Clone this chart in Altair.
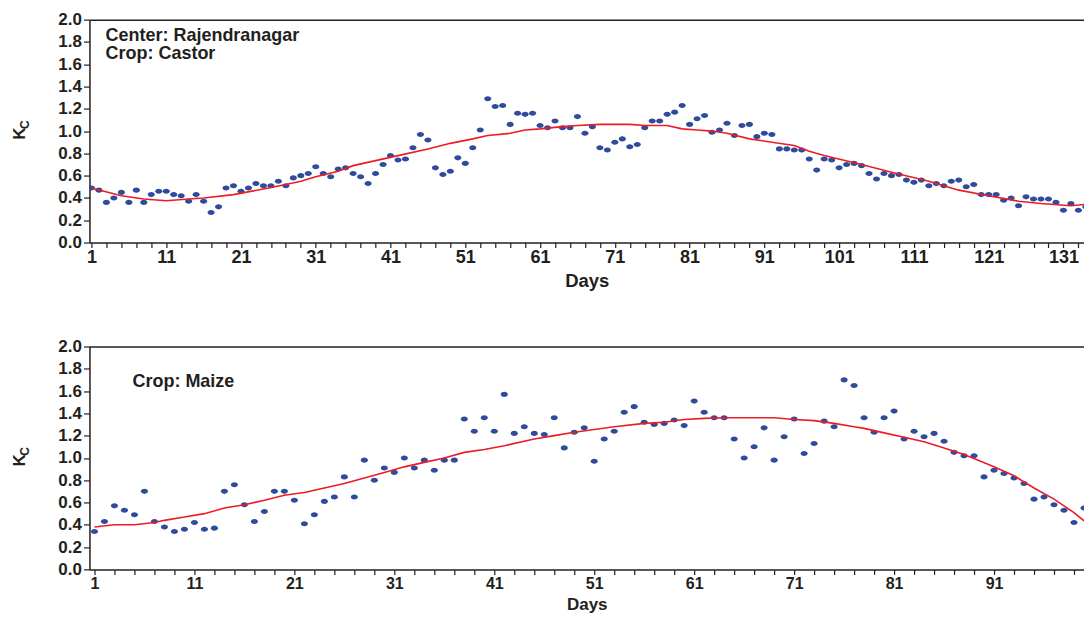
import altair as alt
import pandas as pd

# ---------------- data ----------------
castor_kc = [
    0.49, 0.47, 0.36, 0.40, 0.45, 0.36, 0.47, 0.36, 0.43, 0.46,
    0.46, 0.43, 0.42, 0.37, 0.43, 0.37, 0.27, 0.32, 0.49, 0.51,
    0.46, 0.49, 0.53, 0.51, 0.51, 0.55, 0.51, 0.58, 0.60, 0.62,
    0.68, 0.62, 0.59, 0.66, 0.67, 0.62, 0.59, 0.53,
    0.62, 0.70, 0.78, 0.74, 0.75, 0.85, 0.97, 0.92, 0.67, 0.61,
    0.64, 0.76, 0.71, 0.85, 1.01, 1.29, 1.22, 1.23, 1.06, 1.16,
    1.15, 1.16, 1.05, 1.03, 1.09, 1.03, 1.03, 1.13, 0.98, 1.04,
    0.85, 0.83, 0.90, 0.93, 0.86, 0.88, 1.03, 1.09, 1.09, 1.15,
    1.17, 1.23, 1.06, 1.11, 1.14, 0.99, 1.01, 1.07, 0.96,
    1.05, 1.06, 0.95, 0.98, 0.97, 0.84, 0.84, 0.83, 0.83, 0.75,
    0.65, 0.75, 0.74, 0.67, 0.70, 0.71, 0.69, 0.62, 0.57, 0.62,
    0.60, 0.61, 0.56, 0.54, 0.56, 0.51, 0.53, 0.51, 0.55, 0.56,
    0.50, 0.52, 0.43, 0.43, 0.43, 0.38, 0.40, 0.33, 0.41, 0.39,
    0.39, 0.39, 0.36, 0.29, 0.35, 0.29, 0.32, 0.34,
]
castor_fit_days = [1, 5, 8, 11, 14, 16, 20, 24, 27, 29, 31, 34, 36, 42, 46, 49,
                   52, 54, 57, 59, 61, 64, 66, 69, 73, 75, 78, 80, 82, 84, 86,
                   89, 92, 95, 97, 99, 104, 108, 113, 117, 121, 125, 128, 132, 135]
castor_fit = [0.49, 0.42, 0.39, 0.375, 0.39, 0.40, 0.43, 0.48, 0.52, 0.55, 0.59,
              0.64, 0.69, 0.78, 0.84, 0.89, 0.93, 0.96, 0.98, 1.01, 1.02, 1.04,
              1.05, 1.06, 1.06, 1.05, 1.05, 1.02, 1.01, 1.00, 0.98, 0.93, 0.90,
              0.87, 0.82, 0.78, 0.70, 0.63, 0.55, 0.47, 0.42, 0.37, 0.35, 0.33, 0.35]

maize_kc = [
    0.34, 0.43, 0.57, 0.53, 0.49, 0.70, 0.43, 0.38, 0.34, 0.36,
    0.42, 0.36, 0.37, 0.70, 0.76, 0.58, 0.43, 0.52, 0.70, 0.70,
    0.62, 0.41, 0.49, 0.61, 0.65, 0.83, 0.65, 0.98,
    0.80, 0.91, 0.87, 1.00, 0.91, 0.98, 0.89, 0.98, 0.98, 1.35,
    1.24, 1.36, 1.24, 1.57, 1.22, 1.28, 1.22, 1.21, 1.36, 1.09,
    1.23, 1.27, 0.97, 1.17, 1.24, 1.41, 1.46, 1.32, 1.30, 1.31,
    1.34, 1.29, 1.51, 1.41, 1.36, 1.36,
    1.17, 1.00, 1.10, 1.27, 0.98, 1.19, 1.35, 1.04, 1.13, 1.33,
    1.28, 1.70, 1.65, 1.36, 1.23, 1.36, 1.42, 1.17, 1.24, 1.19,
    1.22, 1.15, 1.05, 1.02, 1.02, 0.83, 0.89, 0.86, 0.82, 0.77,
    0.63, 0.65, 0.58, 0.53, 0.42, 0.55,
]
maize_fit_days = [1, 3, 5, 7, 8, 10, 12, 14, 16, 18, 20, 22, 24, 26, 28, 30, 32,
                  34, 36, 38, 40, 42, 45, 47, 49, 51, 53, 56, 58, 60, 62, 64, 69,
                  71, 73, 75, 77, 78, 80, 82, 84, 86, 88, 91, 93, 95, 97, 98, 99, 100]
maize_fit = [0.38, 0.40, 0.40, 0.42, 0.44, 0.47, 0.50, 0.55, 0.58, 0.62, 0.665,
             0.69, 0.73, 0.77, 0.82, 0.87, 0.92, 0.96, 1.00, 1.05, 1.075, 1.11,
             1.17, 1.20, 1.23, 1.255, 1.28, 1.31, 1.32, 1.345, 1.355, 1.36, 1.36,
             1.345, 1.335, 1.31, 1.28, 1.265, 1.225, 1.185, 1.145, 1.09, 1.03,
             0.92, 0.84, 0.73, 0.63, 0.57, 0.51, 0.435]

y_ticks = [0.0, 0.2, 0.4, 0.6, 0.8, 1.0, 1.2, 1.4, 1.6, 1.8, 2.0]

# ---------------- styling ----------------
TXT = "#231f20"
BLUE = "#2f4b9c"
RED = "#ec1c24"
FONT = "Liberation Sans"
ELLIPSE = "M -1 0 A 1 0.72 0 1 0 1 0 A 1 0.72 0 1 0 -1 0 Z"
H = 223
W = 995


def panel(kc, fit_days, fit, xdom, last_tick, notes, title_pad, lab_fs, title_fs):
    pts = pd.DataFrame({"day": list(range(1, len(kc) + 1)), "kc": kc})
    fitdf = pd.DataFrame({"day": fit_days, "kc": fit})
    xs = alt.Scale(domain=xdom, nice=False, zero=False)
    ys = alt.Scale(domain=[0, 2], nice=False, zero=False)
    yaxis = alt.Axis(values=y_ticks, format=".1f", title=None, labelOverlap=False,
                     labelFontSize=17, tickSize=6, labelPadding=2)
    x = alt.X(
        "day:Q",
        scale=xs,
        axis=alt.Axis(
            values=list(range(1, last_tick + 1, 2)),
            labelExpr="(datum.value - 1) % 10 == 0 ? datum.label : ''",
            labelOverlap=False,
            labelFlush=False,
            labelFontSize=lab_fs,
            tickSize=5,
            labelPadding=1,
            title="Days",
            titleFontSize=title_fs,
            titlePadding=title_pad,
        ),
    )
    points = alt.Chart(pts).mark_point(
        shape=ELLIPSE, filled=True, size=50, color=BLUE, opacity=1, clip=True
    ).encode(x=x, y=alt.Y("kc:Q", scale=ys, axis=yaxis))
    line = alt.Chart(fitdf).mark_line(color=RED, strokeWidth=1.6, clip=True).encode(
        x=alt.X("day:Q", scale=xs,
                axis=alt.Axis(orient="top", labels=False, ticks=False, title=None,
                              domain=True)),
        y=alt.Y("kc:Q", scale=ys, axis=yaxis),
    )
    layers = [points, line]
    for txt, nx, ny in notes:
        layers.append(
            alt.Chart(pd.DataFrame({"t": [txt]})).mark_text(
                align="left", baseline="middle", font=FONT, fontSize=18,
                fontWeight="bold", color=TXT,
            ).encode(x=alt.value(nx), y=alt.value(ny), text="t:N")
        )
    layers.append(
        alt.Chart(pd.DataFrame({"t": ["K"]})).mark_text(
            angle=270, align="center", baseline="middle", font=FONT, fontSize=17,
            fontWeight="bold", color=TXT,
        ).encode(x=alt.value(-69), y=alt.value(114), text="t:N")
    )
    layers.append(
        alt.Chart(pd.DataFrame({"t": ["C"]})).mark_text(
            angle=270, align="center", baseline="middle", font=FONT, fontSize=12,
            fontWeight="bold", color=TXT,
        ).encode(x=alt.value(-64), y=alt.value(105), text="t:N")
    )
    return (
        alt.layer(*layers)
        .resolve_axis(x="independent")
        .properties(width=W, height=H)
    )


top = panel(castor_kc, castor_fit_days, castor_fit, [0.733, 133.75], 133,
            [("Center: Rajendranagar", 16, 16), ("Crop: Castor", 16, 34)], 5, 18, 18.5)
bottom = panel(maize_kc, maize_fit_days, maize_fit, [0.5, 100.0], 99,
               [("Crop: Maize", 43, 36)], 5, 16, 17)

chart = (
    alt.vconcat(top, bottom, spacing=47)
    .properties(padding={"left": 3.5, "top": 2.5, "right": 0, "bottom": 0})
    .configure_view(stroke=None)
    .configure_axis(
        labelFont=FONT, titleFont=FONT, labelColor=TXT, titleColor=TXT,
        labelFontWeight="bold", titleFontWeight="bold",
        domainColor=TXT, tickColor=TXT, domainWidth=1.5, tickWidth=1.2,
        grid=False,
    )
)

chart.save("out.html", embed_options={"renderer": "svg", "actions": False})
